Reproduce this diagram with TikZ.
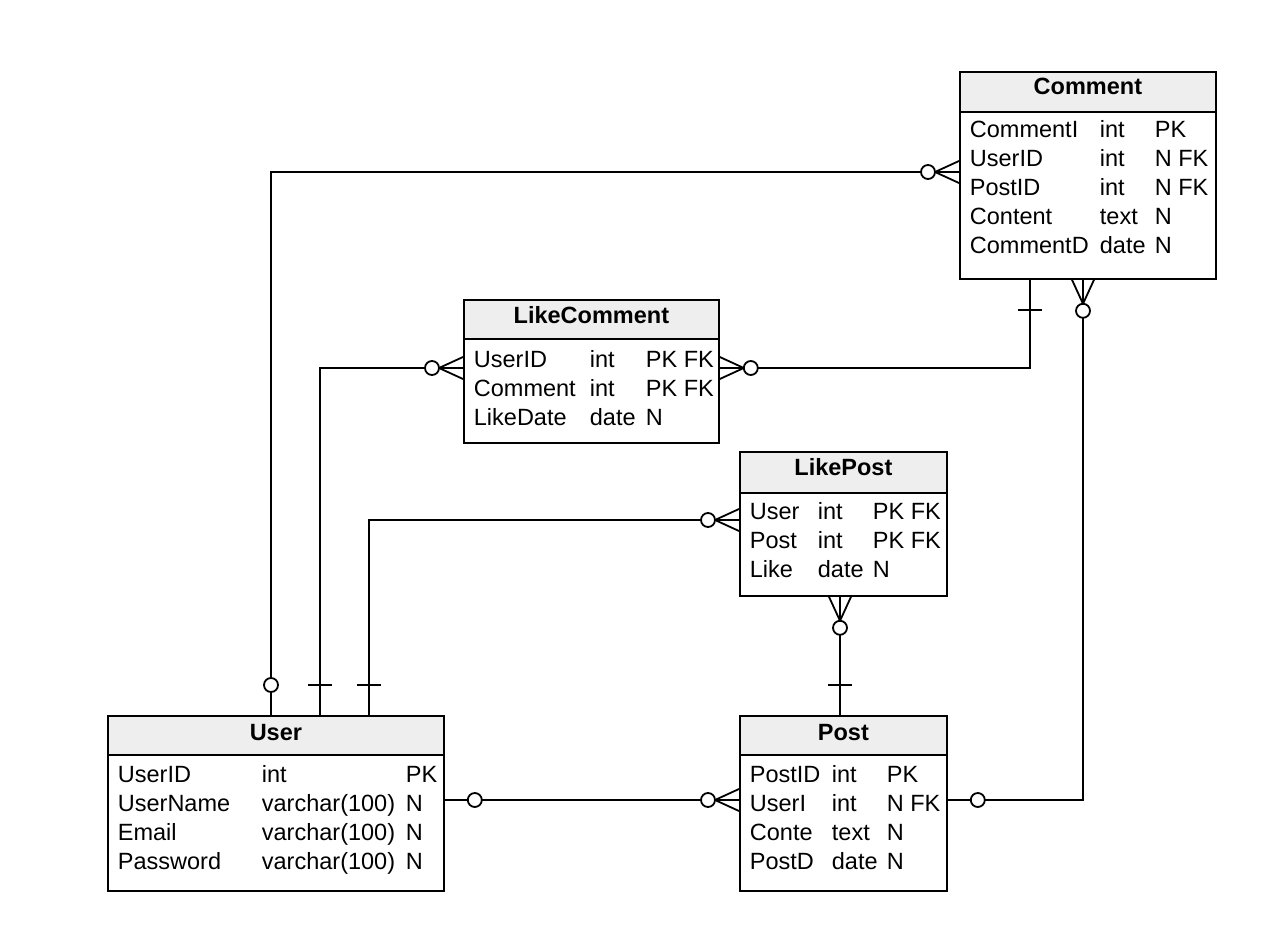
\documentclass[tikz,border=0pt]{standalone}
\usepackage{fontspec}
\setmainfont{Liberation Sans}
\begin{document}
\begin{tikzpicture}[x=1pt,y=1pt,line width=1.8pt,
  entity/.style={draw,fill=white,rectangle,inner sep=0pt,anchor=north west},
  hdr/.style={draw,fill=gray!13,rectangle,inner sep=0pt,anchor=north west},
  title/.style={anchor=base,inner sep=0pt,font=\fontsize{23.5}{28}\selectfont\bfseries},
  cell/.style={anchor=base west,inner sep=0pt,font=\fontsize{23.5}{28}\selectfont},
  conn/.style={line width=1.8pt},
  zmany/.pic={\draw[conn] (0,0)--(24,0) (0,11)--(24,0)--(0,-11); \draw[conn,fill=white] (31,0) circle (7);},
  zone/.pic={\draw[conn,fill=white] (30,0) circle (7);},
  bar/.pic={\draw[conn] (30,-12)--(30,12);}
]
\useasboundingbox (0,0) rectangle (1288,-952);

% entity boxes
\node[entity,minimum width=256,minimum height=207] (comment) at (959,-71) {};
\node[entity,minimum width=255,minimum height=143] (likecomment) at (463,-299) {};
\node[entity,minimum width=207,minimum height=144] (likepost) at (739,-451) {};
\node[entity,minimum width=336,minimum height=175] (user) at (107,-715) {};
\node[entity,minimum width=207,minimum height=175] (post) at (739,-715) {};

% connectors
\draw[conn] ([yshift=-101]comment.north west) -| ([xshift=164]user.north west);
\draw[conn] ([yshift=-69]likecomment.north west) -| ([xshift=213]user.north west);
\draw[conn] ([yshift=-69]likepost.north west) -| ([xshift=262]user.north west);
\draw[conn] ([yshift=-69]likecomment.north east) -| ([xshift=71]comment.south west);
\draw[conn] ([xshift=124]comment.south west) |- ([yshift=-85]post.north east);
\draw[conn] ([xshift=101]likepost.south west) -- ([xshift=101]post.north west);
\draw[conn] ([yshift=-85]user.north east) -- ([yshift=-85]post.north west);

% ends
\pic[rotate=180] at ([yshift=-101]comment.north west) {zmany};
\pic[rotate=90] at ([xshift=164]user.north west) {zone};
\pic[rotate=180] at ([yshift=-69]likecomment.north west) {zmany};
\pic[rotate=90] at ([xshift=213]user.north west) {bar};
\pic[rotate=180] at ([yshift=-69]likepost.north west) {zmany};
\pic[rotate=90] at ([xshift=262]user.north west) {bar};
\pic at ([yshift=-69]likecomment.north east) {zmany};
\pic[rotate=-90] at ([xshift=71]comment.south west) {bar};
\pic[rotate=-90] at ([xshift=124]comment.south west) {zmany};
\pic at ([yshift=-85]post.north east) {zone};
\pic[rotate=-90] at ([xshift=101]likepost.south west) {zmany};
\pic[rotate=90] at ([xshift=101]post.north west) {bar};
\pic at ([yshift=-85]user.north east) {zone};
\pic[rotate=180] at ([yshift=-85]post.north west) {zmany};

% headers
\node[hdr,minimum width=256,minimum height=40] (commenth) at (comment.north west) {};
\node[title] (commentt) at ([yshift=-24]comment.north) {Comment};
\node[hdr,minimum width=255,minimum height=39] (likecommenth) at (likecomment.north west) {};
\node[title] (likecommentt) at ([yshift=-24]likecomment.north) {LikeComment};
\node[hdr,minimum width=207,minimum height=41] (likeposth) at (likepost.north west) {};
\node[title] (likepostt) at ([yshift=-24]likepost.north) {LikePost};
\node[hdr,minimum width=336,minimum height=39] (userh) at (user.north west) {};
\node[title] (usert) at ([yshift=-25]user.north) {User};
\node[hdr,minimum width=207,minimum height=39] (posth) at (post.north west) {};
\node[title] (postt) at ([yshift=-25]post.north) {Post};

% Comment rows
\node[cell] (cm1a) at (969,-138) {CommentI}; \node[cell] (cm1b) at (1099,-138) {int}; \node[cell] (cm1c) at (1154,-138) {PK};
\node[cell] (cm2a) at (969,-167) {UserID}; \node[cell] (cm2b) at (1099,-167) {int}; \node[cell] (cm2c) at (1154,-167) {N FK};
\node[cell] (cm3a) at (969,-196) {PostID}; \node[cell] (cm3b) at (1099,-196) {int}; \node[cell] (cm3c) at (1154,-196) {N FK};
\node[cell] (cm4a) at (969,-225) {Content}; \node[cell] (cm4b) at (1099,-225) {text}; \node[cell] (cm4c) at (1154,-225) {N};
\node[cell] (cm5a) at (969,-254) {CommentD}; \node[cell] (cm5b) at (1099,-254) {date}; \node[cell] (cm5c) at (1154,-254) {N};

% LikeComment rows
\node[cell] (lc1a) at (473,-367) {UserID}; \node[cell] (lc1b) at (589,-367) {int}; \node[cell] (lc1c) at (645,-367) {PK FK};
\node[cell] (lc2a) at (473,-396) {Comment}; \node[cell] (lc2b) at (589,-396) {int}; \node[cell] (lc2c) at (645,-396) {PK FK};
\node[cell] (lc3a) at (473,-425) {LikeDate}; \node[cell] (lc3b) at (589,-425) {date}; \node[cell] (lc3c) at (645,-425) {N};

% LikePost rows
\node[cell] (lp1a) at (749,-519) {User}; \node[cell] (lp1b) at (817,-519) {int}; \node[cell] (lp1c) at (872,-519) {PK FK};
\node[cell] (lp2a) at (749,-548) {Post}; \node[cell] (lp2b) at (817,-548) {int}; \node[cell] (lp2c) at (872,-548) {PK FK};
\node[cell] (lp3a) at (749,-577) {Like}; \node[cell] (lp3b) at (817,-577) {date}; \node[cell] (lp3c) at (872,-577) {N};

% User rows
\node[cell] (u1a) at (117,-782) {UserID}; \node[cell] (u1b) at (261,-782) {int}; \node[cell] (u1c) at (405,-782) {PK};
\node[cell] (u2a) at (117,-811) {UserName}; \node[cell] (u2b) at (261,-811) {varchar(100)}; \node[cell] (u2c) at (405,-811) {N};
\node[cell] (u3a) at (117,-840) {Email}; \node[cell] (u3b) at (261,-840) {varchar(100)}; \node[cell] (u3c) at (405,-840) {N};
\node[cell] (u4a) at (117,-869) {Password}; \node[cell] (u4b) at (261,-869) {varchar(100)}; \node[cell] (u4c) at (405,-869) {N};

% Post rows
\node[cell] (p1a) at (749,-782) {PostID}; \node[cell] (p1b) at (831,-782) {int}; \node[cell] (p1c) at (886,-782) {PK};
\node[cell] (p2a) at (749,-811) {UserI}; \node[cell] (p2b) at (831,-811) {int}; \node[cell] (p2c) at (886,-811) {N FK};
\node[cell] (p3a) at (749,-840) {Conte}; \node[cell] (p3b) at (831,-840) {text}; \node[cell] (p3c) at (886,-840) {N};
\node[cell] (p4a) at (749,-869) {PostD}; \node[cell] (p4b) at (831,-869) {date}; \node[cell] (p4c) at (886,-869) {N};
\end{tikzpicture}
\end{document}
